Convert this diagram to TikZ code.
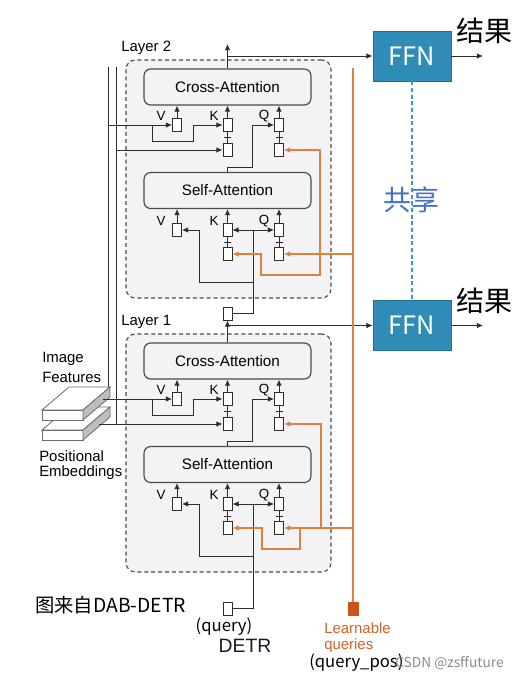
\documentclass[tikz,border=0pt]{standalone}
\usepackage{fontspec}
\setmainfont{Liberation Sans}
\newfontfamily\cjk{Noto Sans CJK SC}
\usetikzlibrary{arrows.meta}
\definecolor{lfill}{RGB}{243,243,245}
\definecolor{lborder}{RGB}{75,75,75}
\definecolor{ink}{RGB}{45,45,45}
\definecolor{oline}{RGB}{222,128,62}
\definecolor{osq}{RGB}{200,85,20}
\definecolor{otext}{RGB}{205,100,40}
\definecolor{ffnfill}{RGB}{46,140,182}
\definecolor{ffnborder}{RGB}{35,110,150}
\definecolor{shareblue}{RGB}{68,114,196}
\definecolor{dashblue}{RGB}{60,150,200}
\definecolor{slabside}{RGB}{190,190,190}
\definecolor{slabline}{RGB}{110,110,110}
\definecolor{wmgrey}{RGB}{140,140,140}
\definecolor{detrink}{RGB}{25,25,45}
\tikzset{
 layerbox/.style={draw=lborder, fill=lfill, dash pattern=on 3pt off 2.2pt, line width=0.85pt, rounded corners=7pt, minimum width=153.75pt, minimum height=178.5pt, inner sep=0pt},
 attbox/.style={draw=lborder, fill=lfill, rounded corners=5pt, line width=0.85pt, minimum width=125.25pt, minimum height=27pt, inner sep=0pt, font=\fontsize{11.4pt}{13pt}\selectfont},
 sbox/.style={draw=ink, fill=white, line width=0.7pt, minimum width=6.75pt, minimum height=9.75pt, inner sep=0pt},
 conn/.style={draw=ink, line width=0.75pt},
 arr/.style={conn, -{Latex[length=4.6pt,width=4.2pt]}},
 oconn/.style={draw=oline, line width=0.85pt},
 oarr/.style={oconn, -{Latex[length=4.6pt,width=4.2pt]}},
 vkq/.style={font=\fontsize{10pt}{11pt}\selectfont, inner sep=0pt},
 lab/.style={font=\fontsize{11.2pt}{13pt}\selectfont, inner sep=0pt},
 ffn/.style={draw=ffnborder, fill=ffnfill, line width=0.6pt, minimum width=58.5pt, minimum height=37.5pt, inner sep=0pt, text=white, font=\cjk\fontsize{19pt}{22pt}\selectfont},
 bigcjk/.style={font=\cjk\fontsize{21pt}{24pt}\selectfont, inner sep=0pt},
 smallcjk/.style={font=\cjk\fontsize{12.5pt}{14pt}\selectfont, inner sep=0pt},
}
\begin{document}
\begin{tikzpicture}[x=0.75pt,y=-0.75pt]
\path[use as bounding box] (0,0) rectangle (518,678);
\fill[white] (0,0) rectangle (518,678);

% FFN blocks
\node[ffn] (FFN2) at (412,56) {FFN};
\node[ffn] (FFN1) at (412,325.5) {FFN};
\coordinate (r2) at (483,56);
\coordinate (r1) at (483,325.5);
\draw[arr] (FFN2.east) -- (r2);
\draw[arr] (FFN1.east) -- (r1);
\node[bigcjk] (res2) at (484,31) {结果};
\node[bigcjk] (res1) at (484,301) {结果};
\draw[dashblue, line width=0.8pt, dash pattern=on 3pt off 2pt] (FFN2.south) -- (FFN1.north);
\node[bigcjk, text=shareblue] (share) at (411,200) {共享};

% left feature/pos lines
\coordinate (ftop) at (108,67);
\coordinate (ptop) at (116,67);
\draw[conn] (ftop) -- (108,399);
\draw[conn] (ptop) -- (116,424);

\foreach \n/\d in {2/0,1/274}{
  \node[layerbox] (L\n) at (228.5,179+\d) {};
  \node[lab, anchor=west] (Lt\n) at (121,48+\d) {Layer \n};
  \node[attbox] (c\n) at (227.5,87+\d) {Cross-Attention};
  \node[attbox] (s\n) at (227.5,190.5+\d) {Self-Attention};
  \foreach \nm/\xx in {V/177,K/227.5,Q/279}{
    \node[sbox] (\nm c\n) at (\xx,125+\d) {};
    \node[sbox] (\nm s\n) at (\xx,230+\d) {};
    \draw[arr] (\nm c\n.north) -- (\nm c\n.north |- c\n.south);
    \draw[arr] (\nm s\n.north) -- (\nm s\n.north |- s\n.south);
  }
  \foreach \nm/\xx in {K/227.5,Q/279}{
    \node[sbox] (\nm pc\n) at (\xx,150+\d) {};
    \node[sbox] (\nm ps\n) at (\xx,254+\d) {};
    \draw[conn, line width=0.6pt] (\nm c\n.south) -- (\nm pc\n.north) (\xx-3.5,137.5+\d) -- (\xx+3.5,137.5+\d);
    \draw[conn, line width=0.6pt] (\nm s\n.south) -- (\nm ps\n.north) (\xx-3.5,242+\d) -- (\xx+3.5,242+\d);
  }
  \node[vkq] (lv\n) at (161,116+\d) {V};
  \node[vkq] (lk\n) at (214,116+\d) {K};
  \node[vkq] (lq\n) at (264,116+\d) {Q};
  \node[vkq] (lvs\n) at (161,221+\d) {V};
  \node[vkq] (lks\n) at (214,221+\d) {K};
  \node[vkq] (lqs\n) at (264,221+\d) {Q};
  % self-attention inputs
  \draw[arr] (253,230+\d) -- (Ks\n.east);
  \draw[arr] (253,230+\d) -- (Qs\n.west);
  \draw[arr] (253,282+\d) -- (199,282+\d) -- (199,230+\d) -- (Vs\n.east);
  % self output -> Q of cross
  \draw[arr] (s\n.north) -- (227.5,167+\d) -- (252,167+\d) -- (252,125+\d) -- (Qc\n.west);
  % feature branch to K
  \draw[arr] (152,125+\d) -- (152,141+\d) -- (193,141+\d) -- (193,125+\d) -- (Kc\n.west);
}

% layer 2 feeds from the long lines
\draw[arr] (108,125) -- (Vc2.west);
\draw[arr] (116,150) -- (Kpc2.west);

% slabs: positional (lower) then image features (upper)
\foreach \sy/\nm in {20/pe,0/imf}{
  \filldraw[draw=slabline, fill=white, line width=0.6pt] (42,410+\sy) -- (83,410+\sy) -- (110,387+\sy) -- (69,387+\sy) -- cycle;
  \filldraw[draw=slabline, fill=white, line width=0.6pt] (42,410+\sy) rectangle (83,420+\sy);
  \filldraw[draw=slabline, fill=slabside, line width=0.6pt] (83,410+\sy) -- (110,387+\sy) -- (110,397+\sy) -- (83,420+\sy) -- cycle;
}
\draw[arr] (103,399) -- (Vc1.west);
\draw[arr] (99,424) -- (Kpc1.west);

\node[lab, anchor=west] (imgf1) at (42,359) {Image};
\node[lab, anchor=west] (imgf2) at (42,377) {Features};
\node[lab, anchor=west] (pos1) at (39,456) {Positional};
\node[lab, anchor=west] (pos2) at (39,473) {Embeddings};

% between layers
\node[sbox] (M) at (227.5,313.5) {};
\draw[arr] (c1.north) -- (M.south);
\draw[conn] (M.east) -- (253,313.5) -- (253,230);
\draw[arr] (c1.north |- FFN1.west) -- (FFN1.west);

% top output
\coordinate (out2) at (227.5,44);
\draw[arr] (c2.north) -- (out2);
\draw[arr] (c2.north |- FFN2.west) -- (FFN2.west);

% query input
\node[sbox] (Qry) at (227.5,608.5) {};
\draw[conn] (Qry.east) -- (253,608.5) -- (253,504);

% learnable queries (orange)
\node[draw=osq, fill=osq, minimum width=7.5pt, minimum height=9.75pt, inner sep=0pt] (LQ) at (353,608.5) {};
\coordinate (otop) at (353,68);
\draw[oconn] (otop) -- (LQ.north);
\draw[oarr] (353,254) -- (Qps2.east);
\draw[oarr] (320,254) -- (320,150) -- (Qpc2.east);
\draw[oarr] (320,254) -- (320,275) -- (261,275) -- (261,254) -- (Kps2.east);
\draw[oarr] (353,528) -- (Qps1.east);
\draw[oarr] (321,528) -- (321,424) -- (Qpc1.east);
\draw[oarr] (300,528) -- (300,549) -- (262,549) -- (262,528) -- (Kps1.east);

% bottom texts
\node[font=\cjk\fontsize{14.5pt}{16pt}\selectfont, inner sep=0pt, anchor=west] (src) at (35,605) {图来自DAB-DETR};
\node[smallcjk] (qtxt) at (224,627) {(query)};
\node[font=\fontsize{14.5pt}{16pt}\selectfont, inner sep=0pt, text=detrink] (detr) at (245,646) {DETR};
\node[lab, anchor=west, text=otext] (lqt1) at (324,628) {Learnable};
\node[lab, anchor=west, text=otext] (lqt2) at (324,646) {queries};
\node[smallcjk, anchor=west] (qpos) at (309,663) {(query\_pos)};
\node[font=\cjk\fontsize{10.3pt}{12pt}\selectfont, inner sep=0pt, anchor=west, text=wmgrey] (wm) at (395,663) {CSDN @zsffuture};
\end{tikzpicture}
\end{document}
